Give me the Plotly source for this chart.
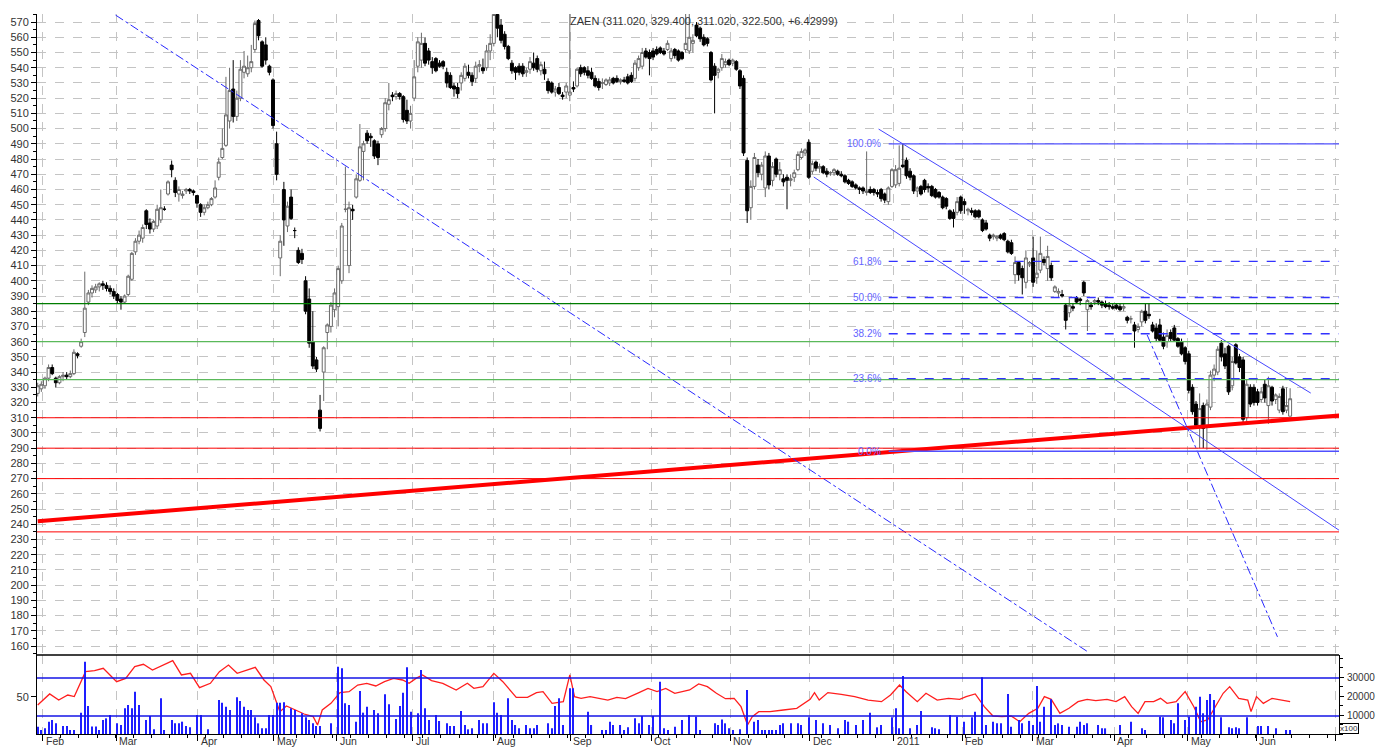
import plotly.graph_objects as go

# ---------------- data (trading-day index on x) ----------------
opens = [
    326,329,331,336,343,336,333,337,338,337, 339,352,357,366,386,392,394,396,398,397,
    395,393,391,388,386,391,401,419,426,428, 446,438,434,436,440,447,457,476,466,457,
    456,459,460,459,456,450,445,448,450,455, 468,481,489,505,526,508,520,537,536,540,
    552,571,557,555,541,532,490,415,460,436, 455,433,420,418,400,388,360,348,315,340,
    366,370,381,383,400,447,410,447,455,466, 485,497,495,492,490,496,500,516,522,521,
    523,521,512,505,520,541,545,556,551,544, 546,543,544,537,535,528,527,530,533,537,
    535,533,541,540,540,551,556,575,568,562, 554,543,540,541,541,537,539,543,546,538,
    539,531,530,524,527,522,524,522,527,528, 540,540,538,537,533,531,530,529,530,533,
    533,531,532,534,535,533,540,541,551,550, 551,552,553,551,552,546,552,551,550,552,
    551,556,568,566,560,559,550,541,537,540, 542,545,543,544,538,533,479,448,462,476,
    470,461,482,466,480,470,467,468,466,468, 473,481,484,491,472,478,474,475,472,471,
    471,472,470,469,466,465,463,461,461,458, 460,460,458,460,457,452,462,463,464,476,
    479,472,469,459,462,466,462,462,460,458, 455,454,446,445,445,455,452,446,446,446,
    446,440,438,430,429,428,430,431,426,425, 404,412,408,399,411,415,402,407,414,408,
    410,393,392,391,384,379,383,389,388,399, 381,384,386,387,386,385,384,383,384,383,
    382,376,375,371,368,373,380,378,371,369, 371,363,360,366,369,362,360,356,352,330,
    319,304,318,305,317,338,340,359,352,357, 331,358,350,348,310,330,330,327,322,332,
    318,330,322,315,329,315,311.02,
]
highs = [
    333,334,337,345,345,337,338,340,340,341, 355,353,362,406,394,397,398,399,400,399,
    397,395,392,390,391,404,419,428,433,437, 447,441,440,450,460,449,466,479,468,462,
    459,461,461,460,456,451,450,452,455,466, 481,500,534,540,545,525,545,551,548,555,
    571,572,558,560,542,533,498,430,465,452, 460,435,422,421,403,395,380,350,325,357,
    372,386,395,410,438,475,452,450,470,503, 492,499,497,493,492,501,520,530,524,525,
    524,522,519,515,545,560,563,560,553,547, 547,545,545,540,537,530,530,537,543,542,
    537,544,545,546,555,562,578,578,572,564, 555,545,541,543,543,540,547,550,548,544,
    544,533,531,528,530,524,530,578,531,540, 542,541,541,540,535,533,533,533,534,534,
    535,533,534,536,537,545,548,553,553,552, 553,554,554,553,558,553,553,552,551,576,
    576,562,570,567,562,560,551,543,540,549, 546,546,546,545,539,535,481,466,484,480,
    478,485,484,478,481,478,470,470,470,473, 485,487,487,493,479,479,477,476,474,472,
    474,473,472,470,467,466,464,462,462,485, 462,461,460,461,458,462,474,476,489,490,
    481,474,470,462,463,467,464,463,461,459, 456,455,447,447,455,456,454,448,448,447,
    447,441,440,431,431,430,431,432,427,427, 416,413,410,420,413,429,420,429,416,423,
    412,397,395,394,385,389,385,390,389,400, 388,386,388,389,387,387,386,385,385,385,
    385,377,377,373,372,381,385,385,373,372, 375,366,368,368,371,363,362,357,354,332,
    321,326,320,322,341,345,357,361,356,358, 350,359,352,350,335,332,332,329,330,335,
    337,331,326,326,331,330,329.4,
]
lows = [
    324,327,329,334,338,330,332,334,335,336, 338,349,356,363,384,389,392,393,394,393,
    391,388,385,381,385,390,400,417,424,425, 434,431,432,434,438,446,456,468,455,452,
    454,457,457,456,448,442,443,447,449,454, 466,480,488,500,504,505,518,533,534,537,
    550,558,540,542,535,500,466,403,423,432, 440,428,411,411,378,356,342,340,301,321,
    355,366,376,370,398,445,405,440,454,465, 466,490,488,480,476,494,498,512,518,519,
    519,504,503,500,518,537,540,541,542,536, 537,540,539,527,526,521,520,525,531,533,
    528,530,537,536,538,545,554,560,556,552, 545,536,532,535,534,534,536,538,537,535,
    532,523,523,521,522,519,520,518,524,527, 534,535,533,532,527,525,526,528,528,529,
    530,529,530,529,530,531,538,539,546,535, 545,548,549,548,551,544,546,544,545,550,
    549,550,560,557,554,554,531,510,533,538, 540,541,541,538,526,482,438,440,460,468,
    466,455,460,462,468,466,462,447,462,465, 472,480,482,467,470,472,471,470,468,469,
    469,469,468,464,463,461,460,457,457,456, 457,456,455,452,451,450,461,461,462,474,
    467,466,457,455,456,458,458,455,454,454, 447,447,440,435,443,444,444,443,443,441,
    441,432,433,426,427,426,427,426,418,417, 398,400,391,395,409,396,398,405,410,400,
    400,392,389,389,368,376,380,385,384,390, 367,381,384,384,382,382,381,381,381,380,
    380,372,372,356,366,370,372,375,366,360, 360,355,356,360,360,356,351,345,326,312,
    303,290,290,289,315,334,338,347,342,325, 328,345,340,307,307,317,318,318,320,320,
    306,318,319,313,312,313,311.02,
]
closes = [
    331,332,336,343,339,333,337,338,337,339, 353,351,360,382,392,395,396,398,397,395,
    393,390,387,386,390,403,418,426,430,435, 437,434,439,447,448,447,465,473,458,460,
    457,460,459,458,451,445,448,450,454,461, 478,487,509,525,508,520,539,541,540,544,
    569,561,541,545,537,502,470,426,440,449, 441,433,412,414,380,359,344,342,303,356,
    371,384,392,408,436,447,448,446,467,488, 490,492,494,482,481,500,517,519,521,523,
    521,506,505,510,534,557,556,543,545,540, 538,541,541,530,527,526,523,535,541,535,
    531,541,542,538,551,556,575,566,558,554, 546,538,537,537,536,538,544,540,539,542,
    536,525,524,526,523,521,528,524,526,539, 536,537,535,533,528,527,530,532,532,530,
    531,532,531,530,531,543,546,550,547,546, 547,549,550,549,556,551,548,545,546,556,
    560,558,561,559,555,556,532,535,539,546, 544,542,545,539,528,484,446,462,481,471,
    476,482,463,475,470,473,465,466,467,471, 483,485,486,468,477,474,475,471,470,471,
    473,470,469,465,464,462,461,460,459,459, 458,458,457,454,453,461,473,473,474,475,
    469,468,459,461,457,460,461,456,455,455, 448,449,441,441,452,446,450,447,445,442,
    442,433,434,428,430,429,428,427,419,418, 412,404,402,415,412,399,405,418,412,416,
    402,396,393,390,374,384,382,386,387,392, 387,383,387,386,384,383,383,382,382,381,
    383,374,375,367,370,380,374,377,367,362, 361,357,364,362,361,357,352,347,328,314,
    305,316,303,319,338,342,355,350,344,327, 347,346,343,309,332,319,320,320,327,323,
    331,321,325,324,314,318,322.5,
]
days = list(range(len(closes)))

vol_days = [
    0,1,2,3,4,5,7,8,9,10,12,13,14,15,16,17,18,19,20,22,23,24,25,26,27,28,30,31,32,34,35,37,38,39,40,41,42,44,45,47,
    50,51,52,53,55,56,57,58,59,60,61,62,63,64,65,66,67,68,70,71,73,74,75,76,77,78,81,83,84,85,86,88,89,90,91,93,94,96,97,99,
    100,101,102,103,105,106,107,108,110,111,113,114,115,117,118,119,120,122,123,124,126,127,128,130,131,132,133,135,136,137,138,141,142,143,144,145,147,148,152,153,
    156,157,158,159,161,162,163,165,166,167,169,170,172,173,174,176,178,180,182,183,187,188,189,190,191,192,194,196,198,199,200,201,202,203,204,205,206,208,210,211,
    213,215,217,219,221,223,224,226,228,230,232,233,236,237,238,239,241,243,244,247,248,249,252,254,256,258,259,261,262,264,265,266,268,269,271,272,274,275,276,277,
    278,280,281,282,283,285,287,288,289,290,293,294,295,299,302,305,306,310,311,313,314,315,317,318,320,321,322,323,324,325,327,329,330,331,332,334,337,338,340,342,
    345,346,
]
vol_vals = [
    3860,2100,2980,6490,7370,5610,4210,4210,2100,2100,11230,38070,14740,4000,4000,2100,7370,8250,10000,5600,4740,13510,15260,13510,22280,15260,7370,9470,2460,18770,2100,7370,5610,5610,6490,4210,3510,10000,10000,2460,
    17890,16490,14390,12630,19300,17370,14390,12630,12630,8770,5610,2980,2980,10000,10000,16490,16490,16670,13510,12630,10880,8770,7370,5610,4210,4210,5610,35440,34560,16140,15260,6490,22630,11230,14390,12630,10880,20880,15610,7890,
    14740,21750,35090,11750,10880,33680,13510,7370,10000,6840,5610,4210,4210,12110,4740,2460,2980,7370,5610,5610,16670,11230,10000,18770,7370,4740,2980,4740,2980,2980,4740,5610,2980,14740,18770,4740,24040,24040,11750,4740,
    2100,2100,6490,4740,4740,2100,3510,8250,5610,9470,4740,9470,27540,2980,2100,3860,7370,10000,9120,2100,5610,4740,7670,5610,2980,2100,2460,23160,6490,7370,2100,2100,2100,2100,2100,4740,5610,5610,5610,4740,
    8770,7370,5610,4740,2980,7370,6490,4740,7370,11230,3510,4740,8770,13510,2980,30530,2980,4740,12110,3510,2980,2460,10000,9120,6490,8770,11750,29820,4740,6490,5610,5610,21050,3860,7370,5610,6900,4740,25260,6490,
    14390,18250,4740,5610,4740,3860,3860,6490,4740,5610,4740,2980,2980,4740,6490,2980,2100,9120,8770,7370,5610,16140,7370,9120,14390,19650,10880,17890,21050,17890,8770,3510,2980,3510,2980,8770,4210,4210,4210,2980,
    2100,2100,
]

rsi_days = [
    0,3.3,5.8,8.3,10.1,11.4,13.2,15.7,18.1,21.8,24.3,26.8,29.2,31.7,34.2,37.3,39.7,42.2,44.7,47.7,
    50.2,52.7,55.1,57.6,60.1,62.5,64.4,66.9,68.7,71.2,73.6,76.1,77.3,78.6,81,83.5,86,88.4,90.9,93.4,
    95.8,98.3,100.8,102.6,104.5,106.3,108.8,111.9,115.6,118.7,120.5,123,126,128.5,132.2,135.3,137.8,139.6,142.1,145.2,
    147,148.3,150.1,152.6,155,157.5,160,162.4,166.1,168.6,171.1,173.5,176,178.5,180.1,182.6,185,187.5,190,192.4,
    194.3,196.1,197.4,199.2,202.3,206,209.7,213.4,214.6,215.9,218.3,222,225.7,229.4,233.1,235.6,238.1,239.9,243,245.4,
    248.5,251.6,254.7,256.5,259,261.5,263.9,266.4,268.9,271.3,273.8,276.3,278.1,280,282.4,284.9,287.4,289.9,292.3,295.4,
    297.9,300.3,302.2,304,305.9,308.3,310.2,312,314.5,317,319.4,321.3,323.2,325.6,327.5,329.3,331.8,334.3,335.2,336.7,
    338.6,341,343.5,346,
]
rsi_vals = [
    41.6,53.2,46.8,52.1,50.4,60.9,76.7,77.7,80.2,66.1,69.6,81.9,84.4,78.4,82.6,88.2,73.2,74.9,59.8,64.4,
    76.7,83.7,74.9,78.4,81.2,67.9,60.9,34.6,40.5,36.3,32.1,29.3,20.5,36.3,43.3,54.6,55.6,62.6,64.4,61.6,
    66.1,69.6,67.9,64.4,69.6,73.2,67.2,64.4,57.4,64.4,59.1,61.0,74.9,66.1,49.6,49.6,54.6,55.6,43.3,45.1,
    73.2,50.4,48.6,50.4,48.6,46.8,49.6,48.2,54.6,59.1,55.6,59.1,53.9,55.6,57.4,63.7,60.9,53.9,48.2,48.6,
    39.8,20.5,29.3,34.6,34.6,36.3,38.1,47.5,54.6,46.8,54.6,52.8,50.4,46.8,45.1,52.1,62.6,55.6,45.1,53.9,
    46.8,48.6,47.5,50.4,53.2,39.8,30.0,29.3,30.0,24.0,32.8,38.1,50.4,47.5,32.8,38.1,45.1,47.5,46.1,47.5,
    45.1,50.4,39.8,32.8,45.1,45.1,48.6,43.3,45.1,55.6,39.8,24.0,25.8,41.6,53.9,60.9,48.6,46.8,34.6,50.4,
    43.3,48.6,46.8,45.1,
]

month_pos = [1.4, 21.8, 44.2, 65.2, 82.6, 103.6, 126, 147.2, 169.6, 191.4, 213.3,
             236.5, 255.5, 274.9, 297.5, 317.7, 336.7, 358.6]
month_labels = ["Feb", "Mar", "Apr", "May", "Jun", "Jul", "Aug", "Sep", "Oct", "Nov",
                "Dec", "2011", "Feb", "Mar", "Apr", "May", "Jun", ""]

green_levels = [385, 360, 335]
red_levels = [310, 290, 270, 235]
fib_levels = [490, 412.8, 389, 365.2, 335.7, 288]
fib_labels = ["100.0%", "61.8%", "50.0%", "38.2%", "23.6%", "0.0%"]
fib_start = 235.1
rsi_bands = [70, 30]
vol_ticks = [10000, 20000, 30000]
vol_tick_text = ["10000", "20000", "30000"]

trend_x, trend_y = [0, 359.7], [242, 311.5]
chan_up_x, chan_up_y = [232.3, 351.7], [499.7, 326.2]
chan_lo_x, chan_lo_y = [214.4, 359.7], [468.2, 235.8]
dd1_x, dd1_y = [21.5, 290.3], [574.6, 155.9]
dd2_x, dd2_y = [306.5, 342.5], [364.4, 166.0]

title_text = "ZAEN (311.020, 329.400, 311.020, 322.500, +6.42999)"

# ---------------- figure ----------------
DOM = (734 - 655) / 720.0
FONT = "Liberation Sans, Arial, sans-serif"
GRID = "#c4c4c4"
BLUE = "rgb(50,50,255)"

fig = go.Figure()

fig.add_trace(go.Candlestick(
    x=days, open=opens, high=highs, low=lows, close=closes,
    increasing=dict(line=dict(color="#6a6a6a", width=1), fillcolor="white"),
    decreasing=dict(line=dict(color="black", width=1), fillcolor="black"),
    whiskerwidth=0, xaxis="x", yaxis="y", showlegend=False, hoverinfo="skip"))

def line_trace(xs, ys, color, width, dash="solid", xa="x", ya="y"):
    fig.add_trace(go.Scatter(x=xs, y=ys, mode="lines", xaxis=xa, yaxis=ya,
                             line=dict(color=color, width=width, dash=dash),
                             showlegend=False, hoverinfo="skip"))

line_trace(trend_x, trend_y, "rgb(255,0,0)", 4)
line_trace(chan_up_x, chan_up_y, "rgb(70,70,255)", 1)
line_trace(chan_lo_x, chan_lo_y, "rgb(70,70,255)", 1)
line_trace(dd1_x, dd1_y, "rgb(40,40,255)", 1, "dashdot")
line_trace(dd2_x, dd2_y, "rgb(40,40,255)", 1, "dashdot")

# lower panel: volume + oscillator
fig.add_trace(go.Bar(x=vol_days, y=vol_vals, xaxis="x2", yaxis="y4", width=0.3,
                     marker=dict(color="rgb(30,30,255)", line=dict(width=0)),
                     showlegend=False, hoverinfo="skip"))
line_trace(rsi_days, rsi_vals, "rgb(255,30,30)", 1.3, xa="x2", ya="y2")

shapes = []
for lvl, col in zip(green_levels, ["rgb(0,125,0)", "rgb(90,185,90)", "rgb(90,185,90)"]):
    shapes.append(dict(type="line", xref="paper", yref="y", x0=0, x1=1, y0=lvl, y1=lvl,
                       line=dict(color=col, width=1.3)))
for lvl in red_levels:
    shapes.append(dict(type="line", xref="paper", yref="y", x0=0, x1=1, y0=lvl, y1=lvl,
                       line=dict(color="rgb(255,0,0)", width=1)))
for lvl, lab in zip(fib_levels, fib_labels):
    solid = lab in ("100.0%", "0.0%")
    shapes.append(dict(type="line", xref="x", yref="y", x0=fib_start, x1=359.7, y0=lvl, y1=lvl,
                       line=dict(color=BLUE if not solid else "rgb(80,80,255)",
                                 width=1.3, dash="solid" if solid else "dash")))
for lvl in rsi_bands:
    shapes.append(dict(type="line", xref="paper", yref="y2", x0=0, x1=1, y0=lvl, y1=lvl,
                       line=dict(color="rgb(20,20,230)", width=1.3)))
shapes.append(dict(type="line", xref="paper", yref="paper", x0=0, x1=1, y0=DOM, y1=DOM,
                   line=dict(color="black", width=1.5)))

annotations = []
for lvl, lab in zip(fib_levels, fib_labels):
    annotations.append(dict(x=233.4, y=lvl, xref="x", yref="y", text=lab, showarrow=False,
                            xanchor="right", yanchor="middle",
                            font=dict(family=FONT, size=10, color="rgb(100,100,255)")))
for pos, lab in zip(month_pos, month_labels):
    if lab:
        annotations.append(dict(x=pos + 0.5, y=0, xref="x2", yref="paper", text=lab,
                                showarrow=False, xanchor="left", yanchor="top", yshift=0,
                                borderpad=0,
                                font=dict(family=FONT, size=10.5, color="#333")))
annotations.append(dict(x=146.4, y=570.6, xref="x", yref="y", text=title_text, showarrow=False,
                        xanchor="left", yanchor="middle",
                        font=dict(family=FONT, size=11, color="#333")))
annotations.append(dict(x=1.0, y=(734 - 728) / 720.0, xref="paper", yref="paper", text="x100",
                        showarrow=False, xanchor="left", yanchor="middle", borderpad=0,
                        bordercolor="black", borderwidth=1,
                        font=dict(family=FONT, size=8, color="#333")))

tickfont = dict(family=FONT, size=11, color="#333")
smallfont = dict(family=FONT, size=10, color="#333")
yrange = [154.1, 575.3]

fig.update_layout(
    width=1376, height=747,
    margin=dict(l=37, r=37, t=14, b=13, autoexpand=False),
    paper_bgcolor="white", plot_bgcolor="white",
    showlegend=False, hovermode=False,
    boxgap=0.15, boxgroupgap=0.05,
    shapes=shapes, annotations=annotations,
    xaxis=dict(domain=[0, 1], range=[-0.2, 359.5], anchor="y", tickmode="array",
               tickvals=month_pos, showticklabels=False, ticks="", showgrid=True,
               gridcolor=GRID, griddash="dash", zeroline=False, showline=False,
               automargin=False, rangeslider=dict(visible=False)),
    yaxis=dict(domain=[DOM, 1], range=yrange, anchor="x", side="left",
               tickmode="linear", tick0=0, dtick=10, ticks="outside", ticklen=5,
               tickcolor="black", showline=True, linecolor="black", linewidth=1,
               showgrid=True, gridcolor=GRID, griddash="dash", zeroline=False,
               tickfont=tickfont, automargin=False,
               minor=dict(tickmode="linear", tick0=0, dtick=5, ticks="outside",
                          ticklen=3, tickcolor="black", showgrid=False)),
    yaxis3=dict(overlaying="y", anchor="x", side="right", range=yrange,
                tickmode="linear", tick0=0, dtick=10, ticks="outside", ticklen=5,
                tickcolor="black", showline=True, linecolor="black", linewidth=1,
                showgrid=False, zeroline=False, tickfont=tickfont, ticklabelstandoff=10,
                automargin=False,
                minor=dict(tickmode="linear", tick0=0, dtick=5, ticks="outside",
                           ticklen=3, tickcolor="black", showgrid=False)),
    xaxis2=dict(domain=[0, 1], anchor="y2", matches="x", tickmode="array",
                tickvals=month_pos, showticklabels=False, ticks="outside", ticklen=6,
                tickcolor="black", showline=True, linecolor="black", linewidth=1,
                showgrid=True, gridcolor=GRID, griddash="dash", zeroline=False,
                automargin=False,
                minor=dict(tickmode="linear", tick0=1.4, dtick=5, ticks="outside",
                           ticklen=3, tickcolor="black", showgrid=False)),
    yaxis2=dict(domain=[0, DOM], range=[11.05, 94.2], anchor="x2", side="left",
                tickmode="array", tickvals=[50], ticks="outside", ticklen=5,
                tickcolor="black", showline=True, linecolor="black", linewidth=1,
                showgrid=False, zeroline=False, tickfont=tickfont, automargin=False),
    yaxis4=dict(overlaying="y2", anchor="x2", side="right", range=[0, 41579],
                tickmode="array", tickvals=vol_ticks, ticktext=vol_tick_text,
                ticks="outside", ticklen=4, tickcolor="black", showline=True,
                linecolor="black", linewidth=1, showgrid=False, zeroline=False,
                tickfont=smallfont, ticklabelstandoff=1, automargin=False,
                minor=dict(tickmode="linear", tick0=0, dtick=5000, ticks="outside",
                           ticklen=3, tickcolor="black")),
)

fig.write_html("out.html", config={"displayModeBar": False},
               post_script="document.body.style.margin='0px';")
